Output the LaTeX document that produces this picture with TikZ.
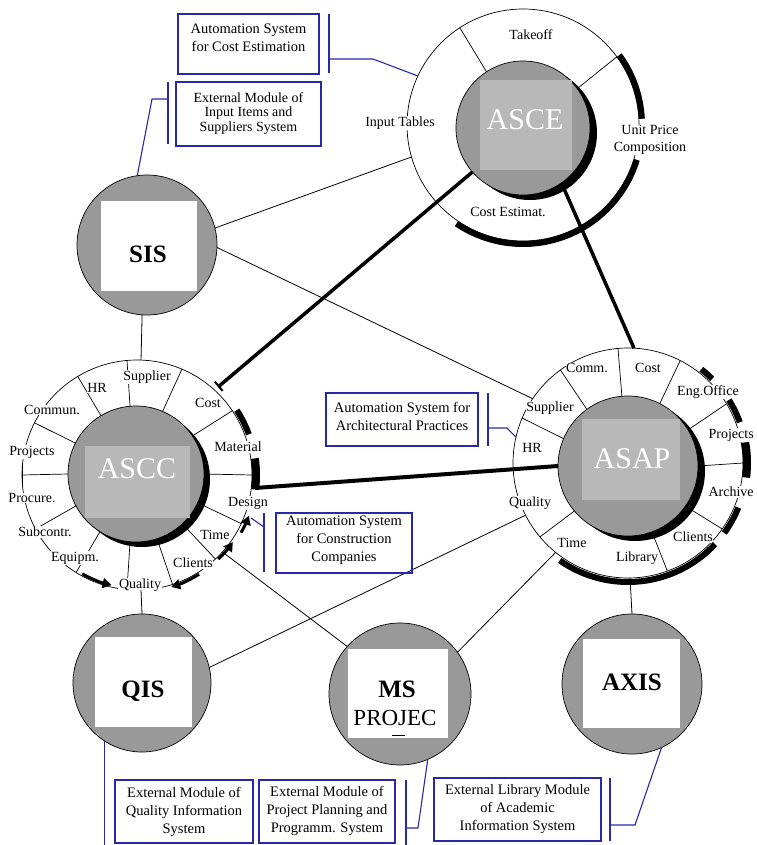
\documentclass[tikz,border=0pt]{standalone}
\usepackage{fontspec}
\setmainfont{Liberation Serif}
\usetikzlibrary{arrows.meta,calc}
\definecolor{cgray}{RGB}{153,153,153}
\definecolor{clight}{RGB}{184,184,184}
\definecolor{cblue}{RGB}{40,40,170}
\newcommand{\tkarc}[5][tarc]{\draw[#1] ($(#2)+(#4:#3pt)$) arc[start angle=#4,end angle=#5,radius=#3pt];}
\begin{document}
\begin{tikzpicture}[x=1pt,y=-1pt,
 every node/.style={outer sep=0pt},
 ringc/.style={circle, draw=black, line width=0.7pt, inner sep=0pt},
 gcirc/.style={circle, draw=black, line width=0.7pt, fill=cgray, inner sep=0pt},
 lsq/.style={fill=clight, inner sep=0pt},
 wsq/.style={fill=white, inner sep=0pt},
 bigw/.style={font=\fontsize{30}{32}\selectfont, text=white, anchor=base, inner sep=0pt},
 bigb/.style={font=\fontsize{25}{27}\selectfont\bfseries, anchor=base, inner sep=0pt},
 lab/.style={font=\fontsize{14}{16}\selectfont, fill=white, inner sep=0.6pt},
 divl/.style={line width=0.7pt},
 thinl/.style={line width=0.8pt},
 boldl/.style={line width=3.5pt},
 tarc/.style={line width=6pt},
 barc/.style={line width=8pt},
 warr/.style={line width=3pt,-{Triangle[length=9pt,width=10pt]}},
 cbox/.style={draw=cblue, line width=1.1pt, inner sep=0pt},
 ctext/.style={font=\fontsize{14.5}{18}\selectfont, align=center, inner sep=0pt},
 ctextb/.style={font=\fontsize{14}{14.5}\selectfont, align=center, inner sep=0pt},
 cline/.style={draw=cblue, line width=1.1pt},
]
\useasboundingbox (0,0) rectangle (756,845);
\clip (0,0) rectangle (756,845);
\fill[white] (0,0) rectangle (756,845);

% rings
\node[ringc, minimum size=232pt] (re) at (523,125) {};
\node[ringc, minimum size=230pt] (rc) at (137,475) {};
\node[ringc, minimum size=230pt] (rp) at (628,463) {};

% shadows
\fill[black] (530,133) circle[radius=67pt];
\fill[black] (142,479) circle[radius=68pt];
\fill[black] (635,471) circle[radius=70pt];

% main gray circles
\node[gcirc, minimum size=134pt] (ce) at (523,128) {};
\node[gcirc, minimum size=136pt] (cc) at (136,474) {};
\node[gcirc, minimum size=140pt] (cp) at (628,466) {};
\node[lsq, minimum width=92pt, minimum height=90pt] (se) at (526,125) {};
\node[bigw] (te) at (525,130) {ASCE};
\node[lsq, minimum width=105pt, minimum height=72pt] (sc) at (137.5,482) {};
\node[bigw] (tc) at (137,478) {ASCC};
\node[lsq, minimum width=98pt, minimum height=81pt] (sp) at (631,459.5) {};
\node[bigw] (tp) at (632,468) {ASAP};

% dividers
\foreach \a in {123,36} \draw[divl] (ce.\a) -- (re.\a);
\foreach \a in {153,121,95,67,34,0,-25,-47,-72,-95,-122,-152,180} \draw[divl] (cc.\a) -- (rc.\a);
\draw[line width=1pt] ($(rc.180)+(0,-10)$) -- ($(rc.180)+(0,10)$);
\foreach \a in {157,126,95,63,31,0,-35,-70,-140} \draw[divl] (cp.\a) -- (rp.\a);

% external modules
\node[gcirc, minimum size=140pt] (sis) at (147,245) {};
\node[wsq, minimum width=96pt, minimum height=90pt] (ssis) at (149,246) {};
\node[bigb] (tsis) at (148,262) {SIS};
\node[gcirc, minimum size=138pt] (qis) at (142,683) {};
\node[wsq, minimum width=97pt, minimum height=90pt] (sqis) at (143.5,682) {};
\node[bigb] (tqis) at (143,697) {QIS};
\node[gcirc, minimum size=142pt] (ms) at (400,694) {};
\node[wsq, minimum width=100pt, minimum height=89pt] (sms) at (398,693.5) {};
\node[bigb] (tms) at (397,697) {MS};
\node[font=\fontsize{23}{25}\selectfont, anchor=base, inner sep=0pt] (tpr) at (395,725) {PROJEC};
\draw[line width=1.4pt] (392,735.5) -- (405,735.5);
\node[gcirc, minimum size=140pt] (axis) at (632,684) {};
\node[wsq, minimum width=97pt, minimum height=89pt] (sax) at (631.5,683.5) {};
\node[bigb] (tax) at (632,690) {AXIS};

% ring labels ASCE
\node[lab] (le1) at (531,35) {Takeoff};
\node[lab] (le2) at (400,123) {Input Tables};
\node[lab, align=center, font=\fontsize{14}{17}\selectfont] (le3) at (650,140) {Unit Price\\Composition};
\node[lab] (le4) at (508,212) {Cost Estimat.};

% ring labels ASCC
\node[lab] (lc1) at (147,377) {Supplier};
\node[lab] (lc2) at (97,388) {HR};
\node[lab] (lc3) at (52,410) {Commun.};
\node[lab] (lc4) at (32,452) {Projects};
\node[lab] (lc5) at (32,498) {Procure.};
\node[lab] (lc6) at (45,532) {Subcontr.};
\node[lab] (lc7) at (75,558) {Equipm.};
\node[lab] (lc8) at (140,585) {Quality};
\node[lab] (lc9) at (193,563) {Clients};
\node[lab] (lc10) at (215,535) {Time};
\node[lab] (lc11) at (248,503) {Design};
\node[lab] (lc12) at (238,447) {Material};
\node[lab] (lc13) at (208,403) {Cost};

% ring labels ASAP
\node[lab] (lp1) at (587,368) {Comm.};
\node[lab] (lp2) at (648,368) {Cost};
\node[lab] (lp3) at (708,392) {Eng.Office};
\node[lab, anchor=west] (lp4) at (708,435) {Projects};
\node[lab, anchor=west] (lp5) at (708,492) {Archive};
\node[lab] (lp6) at (693,537) {Clients};
\node[lab] (lp7) at (637,558) {Library};
\node[lab] (lp8) at (572,543) {Time};
\node[lab] (lp9) at (530,503) {Quality};
\node[lab] (lp10) at (532,448) {HR};
\node[lab] (lp11) at (550,408) {Supplier};

% thick shadow arcs
\tkarc{re}{119}{36}{3}
\tkarc{re}{119}{-17}{-124}
\tkarc{rc}{119}{33}{20}
\tkarc[barc]{rc}{119}{8}{-7}
\tkarc[warr]{rc}{119}{-29}{-20}
\tkarc[warr]{rc}{117}{-46}{-35}
\tkarc[warr]{rc}{117}{-58}{-73}
\tkarc[warr]{rc}{113}{-119}{-103}
\tkarc{rp}{119}{52}{45}
\tkarc{rp}{119}{32}{20}
\tkarc[barc]{rp}{119}{10}{-7}
\tkarc{rp}{119}{-22}{-36}
\tkarc{rp}{119}{-43}{-125}

% thin connectors
\draw[thinl] (sis.14) -- (re.196);
\draw[thinl] (sis.-2) -- (rp.146);
\draw[thinl] (sis.266) -- (rc.88);
\draw[thinl] (rc.272) -- (qis.north);
\draw[thinl] (qis.13) -- (rp.207);
\draw[thinl] (rc.318) -- (ms.138);
\draw[thinl] (rp.231) -- (ms.36);
\draw[thinl] (rp.271.5) -- (axis.north);

% bold connectors
\coordinate (ct) at (218,387);
\draw[boldl, {Bar[width=12pt,line width=2pt]}-] (ct) -- (ce.221);
\draw[boldl] (ce.305) -- (rp.87.5);
\coordinate (cb) at (255,488);
\draw[line width=4pt] (cb) -- (cp.180);

% callout A
\node[cbox, minimum width=141pt, minimum height=60pt] (bA) at (248.5,44) {};
\node[ctext] (tA) at (248.5,37.5) {Automation System\\for Cost Estimation};
\coordinate (kA1) at (329,14); \coordinate (kA2) at (329,73);
\coordinate (kA3) at (329,59); \coordinate (kA4) at (373,59);
\draw[cline] (kA1) -- (kA2);
\draw[cline] (kA3) -- (kA4) -- (re.155);

% callout B
\node[cbox, minimum width=145pt, minimum height=64pt] (bB) at (248.5,114) {};
\node[ctextb] (tB) at (248.5,113.5) {External Module of\\Input Items and\\Suppliers System};
\coordinate (kB1) at (168,82); \coordinate (kB2) at (168,144);
\coordinate (kB3) at (168,99); \coordinate (kB4) at (152,99);
\draw[cline] (kB1) -- (kB2);
\draw[cline] (kB3) -- (kB4) -- (sis.98);

% callout C
\node[cbox, minimum width=152pt, minimum height=53pt] (bC) at (402,419.5) {};
\node[ctext] (tC) at (402,416) {Automation System for\\Architectural Practices};
\coordinate (kC1) at (488,393); \coordinate (kC2) at (488,446);
\coordinate (kC3) at (488,428); \coordinate (kC4) at (507,428);
\draw[cline] (kC1) -- (kC2);
\draw[cline] (kC3) -- (kC4) -- (rp.167);

% callout D
\node[cbox, minimum width=136pt, minimum height=60pt] (bD) at (344,543) {};
\node[ctext] (tD) at (344,540) {Automation System\\for Construction\\Companies};
\coordinate (kD1) at (264,513); \coordinate (kD2) at (264,572);
\coordinate (kD3) at (264,527); \coordinate (kD4) at (251,518);
\draw[cline] (kD1) -- (kD2);
\draw[cline] (kD3) -- (kD4);

% callout E
\node[cbox, minimum width=138pt, minimum height=63pt] (bE) at (184,811.5) {};
\node[ctext] (tE) at (184,811.5) {External Module of\\Quality Information\\System};
\coordinate (kE) at (104,845);
\draw[cline] (qis.237) -- (qis.237 |- kE);

% callout F
\node[cbox, minimum width=136pt, minimum height=63pt] (bF) at (327,811.5) {};
\node[ctext] (tF) at (327,811) {External Module of\\Project Planning and\\Programm. System};
\coordinate (kF1) at (406,780); \coordinate (kF2) at (406,845);
\coordinate (kF3) at (406,828); \coordinate (kF4) at (418,828);
\draw[cline] (kF1) -- (kF2);
\draw[cline] (kF3) -- (kF4) -- (ms.293);

% callout G
\node[cbox, minimum width=167pt, minimum height=63pt] (bG) at (517.5,809.5) {};
\node[ctext] (tG) at (517.5,809.5) {External Library Module\\of Academic\\Information System};
\coordinate (kG1) at (610,778); \coordinate (kG2) at (610,841);
\coordinate (kG3) at (610,825); \coordinate (kG4) at (635,825);
\draw[cline] (kG1) -- (kG2);
\draw[cline] (kG3) -- (kG4) -- (axis.295);
\end{tikzpicture}
\end{document}
